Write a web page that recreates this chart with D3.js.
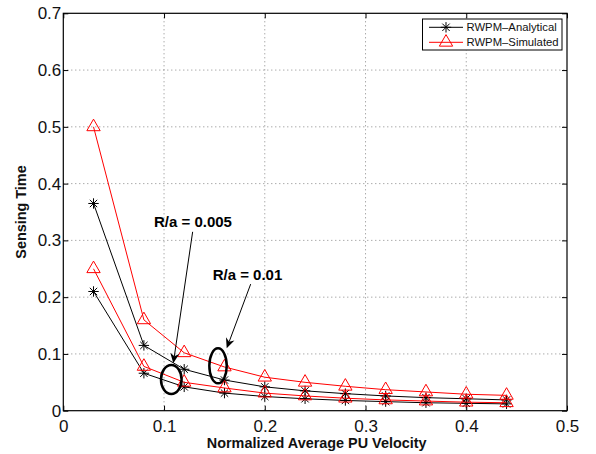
<!DOCTYPE html>
<html>
<head>
<meta charset="utf-8">
<script src="https://cdn.jsdelivr.net/npm/d3@7"></script>
<style>
  html, body { margin: 0; padding: 0; background: #fff; }
  svg { display: block; font-family: "Liberation Sans", Arial, Helvetica, sans-serif; }
</style>
</head>
<body>
<svg id="chart" width="596" height="454"></svg>
<script>
// Normalized average PU velocity (x positions of all four curves)
const velocity = [0.03, 0.08, 0.12, 0.16, 0.20, 0.24, 0.28, 0.32, 0.36, 0.40, 0.44];

// Sensing time, R/a = 0.005
const analytical005 = [0.365, 0.115, 0.073, 0.054, 0.042, 0.035, 0.030, 0.026, 0.023, 0.021, 0.019];
const simulated005  = [0.500, 0.160, 0.102, 0.077, 0.059, 0.050, 0.043, 0.037, 0.033, 0.029, 0.027];

// Sensing time, R/a = 0.01
const analytical01 = [0.210, 0.066, 0.042, 0.031, 0.025, 0.021, 0.018, 0.016, 0.014, 0.013, 0.012];
const simulated01  = [0.250, 0.078, 0.050, 0.040, 0.031, 0.026, 0.022, 0.019, 0.017, 0.015, 0.014];

const xTicks = [0, 0.1, 0.2, 0.3, 0.4, 0.5];
const yTicks = [0, 0.1, 0.2, 0.3, 0.4, 0.5, 0.6, 0.7];
const xDomain = [0, 0.5];
const yDomain = [0, 0.7];

const legendLabels = ["RWPM\u2013Analytical", "RWPM\u2013Simulated"];
const xLabel = "Normalized Average PU Velocity";
const yLabel = "Sensing Time";

// Callouts: label anchor, arrow start/end and ellipse centre, all in data units
const callouts = [
  { text: "R/a = 0.005", label: [0.1287, 0.3229], from: [0.1284, 0.3151], to: [0.1092, 0.0835], ellipse: [0.1072, 0.0549], rx: 10.3, ry: 14.5 },
  { text: "R/a = 0.01",  label: [0.1828, 0.2301], from: [0.1860, 0.2230], to: [0.1622, 0.1099], ellipse: [0.1536, 0.0790], rx: 8.7,  ry: 17.5 }
];

const svg = d3.select("#chart");
const plot = { left: 63.3, right: 567, top: 13.3, bottom: 410.7 };

const x = d3.scaleLinear().domain(xDomain).range([plot.left, plot.right]);
const y = d3.scaleLinear().domain(yDomain).range([plot.bottom, plot.top]);

// Dotted grid
const grid = svg.append("g").attr("class", "grid")
  .attr("stroke", "#555").attr("stroke-width", 0.7).attr("stroke-dasharray", "1,3");
grid.selectAll("line.gx").data(xTicks.slice(1, -1)).join("line")
  .attr("x1", d => x(d)).attr("x2", d => x(d))
  .attr("y1", plot.top).attr("y2", plot.bottom);
grid.selectAll("line.gy").data(yTicks.slice(1, -1)).join("line")
  .attr("y1", d => y(d)).attr("y2", d => y(d))
  .attr("x1", plot.left).attr("x2", plot.right);

// Axes with inward ticks on all four sides
const tickLen = 5;
const fontTick = 17;
const axisBottom = d3.axisBottom(x).tickValues(xTicks).tickSize(-tickLen).tickPadding(9)
  .tickFormat(d => d === 0 ? "0" : d3.format(".1f")(d));
const axisLeft = d3.axisLeft(y).tickValues(yTicks).tickSize(-tickLen).tickPadding(2)
  .tickFormat(d => d === 0 ? "0" : d3.format(".1f")(d));
const axisTop = d3.axisTop(x).tickValues(xTicks).tickSize(-tickLen).tickFormat("");
const axisRight = d3.axisRight(y).tickValues(yTicks).tickSize(-tickLen).tickFormat("");

function styleAxis(g) {
  g.select(".domain").remove();
  g.selectAll(".tick line").attr("stroke", "#000").attr("stroke-width", 1);
  g.selectAll(".tick text").attr("fill", "#111").attr("font-size", fontTick)
    .attr("font-family", "'Liberation Sans', Arial, Helvetica, sans-serif");
}
svg.append("g").attr("transform", `translate(0,${plot.bottom})`).call(axisBottom).call(styleAxis);
svg.append("g").attr("transform", `translate(${plot.left},0)`).call(axisLeft).call(styleAxis);
svg.append("g").attr("transform", `translate(0,${plot.top})`).call(axisTop).call(styleAxis);
svg.append("g").attr("transform", `translate(${plot.right},0)`).call(axisRight).call(styleAxis);

// Plot box
svg.append("rect")
  .attr("x", plot.left).attr("y", plot.top)
  .attr("width", plot.right - plot.left).attr("height", plot.bottom - plot.top)
  .attr("fill", "none").attr("stroke", "#000").attr("stroke-width", 1.2);

// Marker shapes
const starR = 5.2;
function asteriskPath(r) {
  const d = r * Math.SQRT1_2;
  return `M${-r},0L${r},0M0,${-r}L0,${r}M${-d},${-d}L${d},${d}M${-d},${d}L${d},${-d}`;
}
const triR = 7.7;
function trianglePath(r) {
  const h = r * Math.sqrt(3) / 2;
  return `M0,${-r}L${h},${r / 2}L${-h},${r / 2}Z`;
}

const series = [
  { values: analytical005, color: "#000", marker: "star" },
  { values: analytical01,  color: "#000", marker: "star" },
  { values: simulated005,  color: "#ff0000", marker: "tri" },
  { values: simulated01,   color: "#ff0000", marker: "tri" }
];

const line = d3.line().x(d => x(d[0])).y(d => y(d[1]));

series.forEach(s => {
  const pts = velocity.map((v, i) => [v, s.values[i]]);
  const g = svg.append("g");
  g.append("path").datum(pts).attr("d", line)
    .attr("fill", "none").attr("stroke", s.color).attr("stroke-width", 1);
  g.selectAll("path.m").data(pts).join("path").attr("class", "m")
    .attr("transform", d => `translate(${x(d[0])},${y(d[1])})`)
    .attr("d", s.marker === "star" ? asteriskPath(starR) : trianglePath(triR))
    .attr("fill", "none").attr("stroke", s.color).attr("stroke-width", 1);
});

// Callouts: bold label, arrow and ellipse around the pair of curves
callouts.forEach(c => {
  const g = svg.append("g");
  g.append("text")
    .attr("x", x(c.label[0])).attr("y", y(c.label[1]))
    .attr("text-anchor", "middle").attr("font-weight", "bold").attr("font-size", 15)
    .attr("fill", "#000").text(c.text);

  const x1 = x(c.from[0]), y1 = y(c.from[1]);
  const x2 = x(c.to[0]),   y2 = y(c.to[1]);
  const ang = Math.atan2(y2 - y1, x2 - x1);
  const headLen = 10, headHalf = 4.5, notch = 7;
  const bx = x2 - Math.cos(ang) * headLen, by = y2 - Math.sin(ang) * headLen;
  const nx = x2 - Math.cos(ang) * notch,   ny = y2 - Math.sin(ang) * notch;
  const px = -Math.sin(ang), py = Math.cos(ang);
  g.append("line")
    .attr("x1", x1).attr("y1", y1).attr("x2", nx).attr("y2", ny)
    .attr("stroke", "#000").attr("stroke-width", 1);
  g.append("path")
    .attr("d", `M${x2},${y2}L${bx + px * headHalf},${by + py * headHalf}L${nx},${ny}L${bx - px * headHalf},${by - py * headHalf}Z`)
    .attr("fill", "#000");

  g.append("ellipse")
    .attr("cx", x(c.ellipse[0])).attr("cy", y(c.ellipse[1]))
    .attr("rx", c.rx).attr("ry", c.ry)
    .attr("fill", "none").attr("stroke", "#000").attr("stroke-width", 2.5);
});

// Axis titles
svg.append("text")
  .attr("x", (plot.left + plot.right) / 2 + 1.5).attr("y", 447.5)
  .attr("text-anchor", "middle").attr("font-weight", "bold").attr("font-size", 14.4)
  .attr("fill", "#111").text(xLabel);
svg.append("text")
  .attr("transform", `translate(25.5,${(plot.top + plot.bottom) / 2}) rotate(-90)`)
  .attr("text-anchor", "middle").attr("font-weight", "bold").attr("font-size", 14.4)
  .attr("fill", "#111").text(yLabel);

// Legend
const legend = svg.append("g").attr("transform", "translate(422.5,19)");
legend.append("rect").attr("width", 139.5).attr("height", 31)
  .attr("fill", "#fff").attr("stroke", "#000").attr("stroke-width", 1);
const legendItems = [
  { label: legendLabels[0], color: "#000", marker: "star" },
  { label: legendLabels[1], color: "#ff0000", marker: "tri" }
];
legendItems.forEach((it, i) => {
  const ly = 8.3 + i * 15;
  legend.append("line").attr("x1", 6.5).attr("x2", 40.5).attr("y1", ly).attr("y2", ly)
    .attr("stroke", it.color).attr("stroke-width", 1);
  legend.append("path").attr("transform", `translate(23.5,${ly})`)
    .attr("d", it.marker === "star" ? asteriskPath(starR) : trianglePath(triR))
    .attr("fill", "none").attr("stroke", it.color).attr("stroke-width", 1);
  legend.append("text").attr("x", 44).attr("y", ly + 4)
    .attr("font-size", 11.3).attr("fill", "#111").text(it.label);
});
</script>
</body>
</html>
